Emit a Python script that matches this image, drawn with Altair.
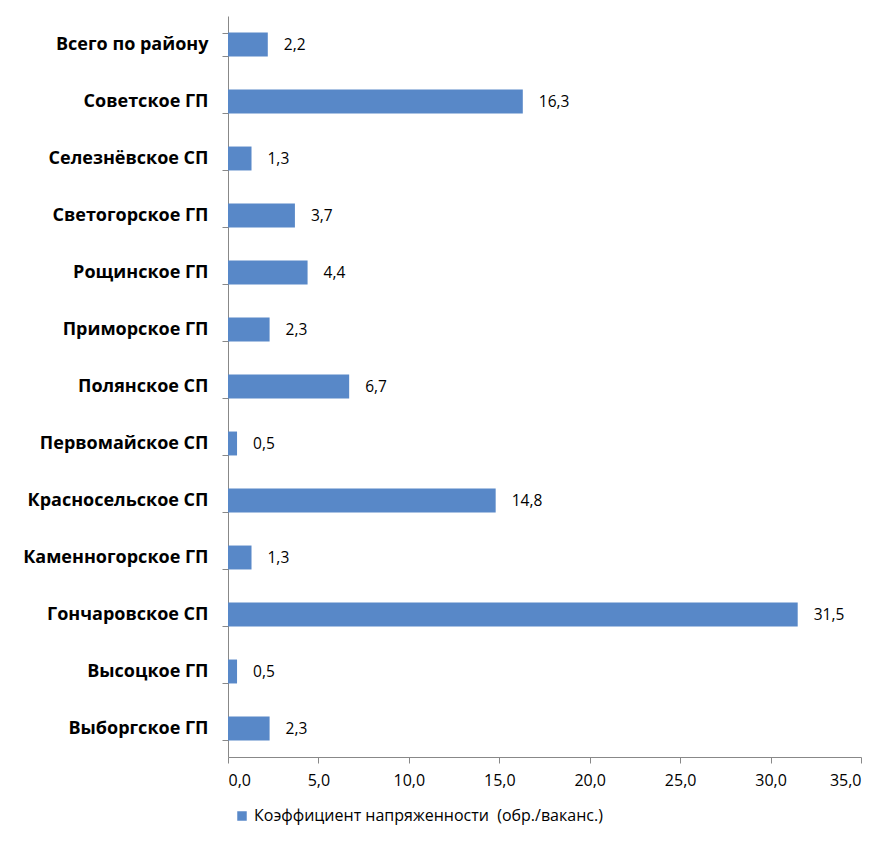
import altair as alt
import pandas as pd

categories = [
    "Всего по району", "Советское ГП", "Селезнёвское СП", "Светогорское ГП",
    "Рощинское ГП", "Приморское ГП", "Полянское СП", "Первомайское СП",
    "Красносельское СП", "Каменногорское ГП", "Гончаровское СП",
    "Высоцкое ГП", "Выборгское ГП",
]
values = [2.2, 16.3, 1.3, 3.7, 4.4, 2.3, 6.7, 0.5, 14.8, 1.3, 31.5, 0.5, 2.3]
series_name = "Коэффициент напряженности \u00a0(обр./ваканс.)"
x_ticks = [0, 5, 10, 15, 20, 25, 30, 35]

df = pd.DataFrame({
    "cat": categories,
    "val": values,
    "lbl": [f"{v:.1f}".replace(".", ",") for v in values],
    "series": [series_name] * len(values),
})

FONT = "Open Sans"
BLUE = "#5888C8"

y_enc = alt.Y("cat:N", sort=categories, title=None,
              scale=alt.Scale(paddingInner=0.58, paddingOuter=0.29),
              axis=alt.Axis(labelFont=FONT, labelFontWeight="bold", labelFontSize=18,
                            labelColor="#000000", labelPadding=14, tickBand="extent",
                            tickSize=6, tickColor="#888888", domainColor="#888888",
                            labelLimit=300))
x_enc = alt.X("val:Q", title=None,
              scale=alt.Scale(domain=[0, 35], nice=False),
              axis=alt.Axis(values=x_ticks, grid=False, labelFont=FONT, labelFontSize=16,
                            labelColor="#000000", tickSize=6, tickColor="#888888",
                            domainColor="#888888", labelPadding=9,
                            labelExpr="replace(format(datum.value, '.1f'), '.', ',')"))

bars = alt.Chart(df).mark_bar(color=BLUE).encode(
    x=x_enc, y=y_enc,
    color=alt.Color("series:N", scale=alt.Scale(range=[BLUE]), title=None,
                    legend=alt.Legend(orient="none", legendX=6, legendY=792,
                                      symbolType="square", symbolSize=90,
                                      symbolStrokeWidth=0, labelFont=FONT,
                                      labelFontSize=16, labelColor="#000000",
                                      labelOffset=4, labelLimit=600)),
)
texts = alt.Chart(df).mark_text(align="left", baseline="middle", dx=16,
                                font=FONT, fontSize=15.5, color="#000000").encode(
    x="val:Q", y=alt.Y("cat:N", sort=categories), text="lbl:N")

chart = (bars + texts).properties(
    width=633, height=741,
    autosize=alt.AutoSizeParams(type="none"),
    padding={"left": 220, "top": 8, "right": 16, "bottom": 72},
).configure_view(stroke=None)

chart.save("out.html", embed_options={"renderer": "svg", "actions": False})
